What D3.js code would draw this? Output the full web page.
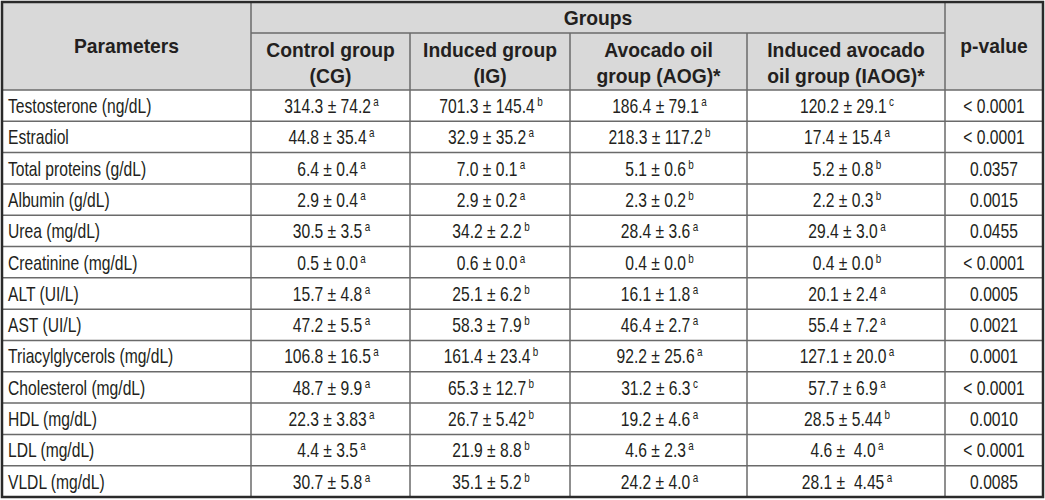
<!DOCTYPE html>
<html>
<head>
<meta charset="utf-8">
<script src="https://cdn.jsdelivr.net/npm/d3@7"></script>
<style>
  html, body { margin: 0; padding: 0; background: #fff; }
  svg { display: block; }
  text { white-space: pre; }
</style>
</head>
<body>
<svg id="chart" width="1045" height="500"></svg>
<script>
// ---------------- DATA ----------------
const parameters = [
  "Testosterone (ng/dL)", "Estradiol", "Total proteins (g/dL)", "Albumin (g/dL)",
  "Urea (mg/dL)", "Creatinine (mg/dL)", "ALT (UI/L)", "AST (UI/L)",
  "Triacylglycerols (mg/dL)", "Cholesterol (mg/dL)", "HDL (mg/dL)", "LDL (mg/dL)", "VLDL (mg/dL)"
];
const groupLabels = [
  ["Control group", "(CG)"],
  ["Induced group", "(IG)"],
  ["Avocado oil", "group (AOG)*"],
  ["Induced avocado", "oil group (IAOG)*"]
];
const cgValues = ["314.3 ± 74.2", "44.8 ± 35.4", "6.4 ± 0.4", "2.9 ± 0.4", "30.5 ± 3.5", "0.5 ± 0.0",
  "15.7 ± 4.8", "47.2 ± 5.5", "106.8 ± 16.5", "48.7 ± 9.9", "22.3 ± 3.83", "4.4 ± 3.5", "30.7 ± 5.8"];
const cgLetters = ["a","a","a","a","a","a","a","a","a","a","a","a","a"];
const igValues = ["701.3 ± 145.4", "32.9 ± 35.2", "7.0 ± 0.1", "2.9 ± 0.2", "34.2 ± 2.2", "0.6 ± 0.0",
  "25.1 ± 6.2", "58.3 ± 7.9", "161.4 ± 23.4", "65.3 ± 12.7", "26.7 ± 5.42", "21.9 ± 8.8", "35.1 ± 5.2"];
const igLetters = ["b","a","a","a","b","a","b","b","b","b","b","b","b"];
const aogValues = ["186.4 ± 79.1", "218.3 ± 117.2", "5.1 ± 0.6", "2.3 ± 0.2", "28.4 ± 3.6", "0.4 ± 0.0",
  "16.1 ± 1.8", "46.4 ± 2.7", "92.2 ± 25.6", "31.2 ± 6.3", "19.2 ± 4.6", "4.6 ± 2.3", "24.2 ± 4.0"];
const aogLetters = ["a","b","b","b","a","b","a","a","a","c","a","a","a"];
const iaogValues = ["120.2 ± 29.1", "17.4 ± 15.4", "5.2 ± 0.8", "2.2 ± 0.3", "29.4 ± 3.0", "0.4 ± 0.0",
  "20.1 ± 2.4", "55.4 ± 7.2", "127.1 ± 20.0", "57.7 ± 6.9", "28.5 ± 5.44", "4.6 ±  4.0", "28.1 ±  4.45"];
const iaogLetters = ["c","a","b","b","a","b","a","a","a","a","b","a","a"];
const pValues = ["< 0.0001", "< 0.0001", "0.0357", "0.0015", "0.0455", "< 0.0001", "0.0005",
  "0.0021", "0.0001", "< 0.0001", "0.0010", "< 0.0001", "0.0085"];

// ---------------- LAYOUT ----------------
const svg = d3.select("#chart");
const colEdges = [2, 251, 410, 570, 747, 945, 1043];
const topY = 2, groupLineY = 33, headBottom = 90, bottomY = 497;
const textColor = "#231f20";
const lineColor = "#6a6a6a";
const bodyFont = "'Liberation Sans', Arial, sans-serif";
const headFont = "'Liberation Sans', Arial, Helvetica, sans-serif";
const narrow = 0.79;

const y = d3.scaleBand().domain(parameters).range([headBottom, bottomY]).padding(0);
const colIdx = d3.range(6);
const xLeft = d3.scaleOrdinal().domain(colIdx).range(colEdges.slice(0, 6));
const xRight = d3.scaleOrdinal().domain(colIdx).range(colEdges.slice(1));
const xMid = i => (xLeft(i) + xRight(i)) / 2;

// header background
svg.append("rect").attr("x", colEdges[0]).attr("y", topY)
  .attr("width", colEdges[6] - colEdges[0]).attr("height", headBottom - topY)
  .attr("fill", "#d9d9d9");

const lines = svg.append("g").attr("stroke", lineColor).attr("stroke-width", 1.5);
lines.selectAll("line.row").data(parameters.slice(1)).join("line").attr("class", "row")
  .attr("x1", colEdges[0]).attr("x2", colEdges[6])
  .attr("y1", d => y(d)).attr("y2", d => y(d));
lines.append("line").attr("x1", colEdges[0]).attr("x2", colEdges[6])
  .attr("y1", headBottom).attr("y2", headBottom);
lines.append("line").attr("x1", colEdges[1]).attr("x2", colEdges[5])
  .attr("y1", groupLineY).attr("y2", groupLineY);
lines.selectAll("line.col").data([1, 2, 3, 4, 5]).join("line").attr("class", "col")
  .attr("x1", i => colEdges[i]).attr("x2", i => colEdges[i])
  .attr("y1", i => (i >= 2 && i <= 4) ? groupLineY : topY)
  .attr("y2", bottomY);

// outer border
svg.append("rect").attr("x", colEdges[0]).attr("y", topY)
  .attr("width", colEdges[6] - colEdges[0]).attr("height", bottomY - topY)
  .attr("fill", "none").attr("stroke", "#2a2a2a").attr("stroke-width", 2.5);

// header texts
const head = svg.append("g").attr("font-family", headFont).attr("font-weight", "bold")
  .attr("font-size", 19.3).attr("fill", textColor).attr("text-anchor", "middle");
head.append("text").attr("x", xMid(0)).attr("y", 53).text("Parameters");
head.append("text").attr("x", xMid(5)).attr("y", 53).text("p-value");
head.append("text").attr("x", (colEdges[1] + colEdges[5]) / 2).attr("y", 25).text("Groups");
head.selectAll("text.grp").data(groupLabels).join("text").attr("class", "grp")
  .attr("x", (d, i) => xMid(i + 1))
  .each(function (d) {
    const t = d3.select(this);
    t.append("tspan").attr("x", t.attr("x")).attr("y", 56.5).text(d[0]);
    t.append("tspan").attr("x", t.attr("x")).attr("y", 83).text(d[1]);
  });

// body texts (condensed by horizontal scaling)
const body = svg.append("g").attr("font-family", bodyFont).attr("font-size", 19.8).attr("fill", textColor);
const baseOff = 23;
const place = (x, yy) => `translate(${x},${yy}) scale(${narrow},1)`;

body.selectAll("text.param").data(parameters).join("text").attr("class", "param")
  .attr("transform", d => place(8, y(d) + baseOff)).text(d => d);

const groupData = [
  [cgValues, cgLetters], [igValues, igLetters], [aogValues, aogLetters], [iaogValues, iaogLetters]
];
groupData.forEach(([vals, lets], gi) => {
  body.selectAll("text.g" + gi).data(parameters).join("text").attr("class", "g" + gi)
    .attr("transform", d => place(xMid(gi + 1) + 1, y(d) + baseOff))
    .attr("text-anchor", "middle")
    .each(function (d, i) {
      const t = d3.select(this);
      t.append("tspan").text(vals[i]);
      t.append("tspan").attr("font-size", 12.5).attr("dx", 3).attr("dy", -7).text(lets[i]);
    });
});
body.selectAll("text.pv").data(parameters).join("text").attr("class", "pv")
  .attr("transform", d => place(xMid(5), y(d) + baseOff)).attr("text-anchor", "middle")
  .text((d, i) => pValues[i]);
</script>
</body>
</html>
